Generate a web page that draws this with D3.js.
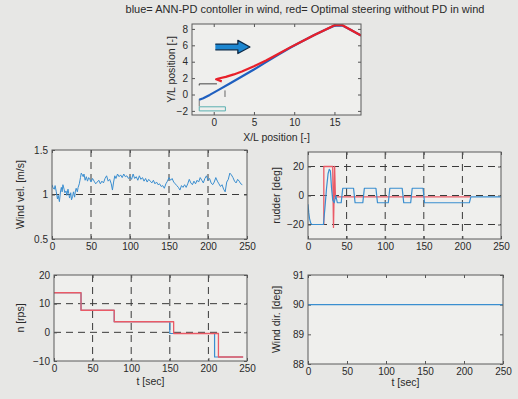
<!DOCTYPE html>
<html><head><meta charset="utf-8">
<script src="https://cdn.jsdelivr.net/npm/d3@7"></script>
<style>
html,body{margin:0;padding:0;background:#e7e7e5;}
svg{display:block;font-family:"Liberation Sans",Arial,sans-serif;}
</style></head><body>
<svg id="c" width="518" height="399"></svg>
<script>
// ---------- DATA ----------
const titleText = "blue= ANN-PD contoller in wind, red= Optimal steering without PD in wind";
// trajectory (X/L, Y/L)
const trajBlue = [[-1.8,-0.65],[-1.3,-0.45],[-0.5,-0.05],[0.5,0.5],[2,1.35],[3.5,2.2],[5,3.05],[6.5,3.95],[8,4.85],[9.5,5.7],[11,6.5],[12.5,7.25],[14,7.95],[15,8.4],[16,8.4],[17,7.9],[18.3,7.2]];
const trajRed = [[1.0,1.6],[0.3,1.85],[0.6,1.95],[1.5,2.15],[2.5,2.45],[3.5,2.8],[5,3.45],[6.5,4.15],[8,4.95],[9.5,5.75],[11,6.5],[12.5,7.25],[14,7.95],[15,8.45],[16,8.45],[17,7.9],[18.3,7.2]];
const markBlack = [[-1.8,1.1],[-1.8,1.3],[0.4,1.3]];
const markTick = [[1.4,0.5],[1.4,-0.3]];
const markGrey = [[-1.8,-0.55],[-1.8,-1.45]];
const markCyan = [[-1.8,-1.5],[1.45,-1.5],[1.45,-2.0],[-1.8,-2.0],[-1.8,-1.5]];
const arrowShape = [[0.2,5.45],[3.0,5.45],[3.0,5.0],[4.5,5.8],[3.0,6.6],[3.0,6.15],[0.2,6.15]];
const trajXTicks = [0,5,10,15];
const trajYTicks = [-2,0,2,4,6,8];

// wind velocity (t, m/s)
const windVel = [[0,1.11],[1.5,1.07],[3,1.06],[4,1.1],[5.5,1.03],[7,0.95],[8,0.99],[9.5,0.92],[11,1.04],[12,1.08],[13,1.03],[14,1.11],[15.5,1.06],[16.5,1.02],[18,1.04],[19,0.99],[20.5,1.06],[21.5,1.01],[22.5,0.96],[24,1.02],[25,0.94],[26.5,0.98],[27.5,1.03],[29,0.97],[30,1.04],[31,1.07],[32.5,1.03],[33.5,1.08],[35,1.12],[36.5,1.19],[37.5,1.24],[39,1.22],[40,1.2],[41,1.23],[42.5,1.16],[44,1.2],[45.5,1.15],[47,1.19],[48.5,1.17],[50,1.14],[52,1.18],[54,1.15],[56,1.12],[58,1.14],[60,1.16],[62,1.12],[64,1.15],[66,1.13],[68,1.18],[70,1.21],[72,1.15],[74,1.17],[76,1.12],[77.5,1.05],[79,1.14],[80.5,1.21],[82,1.18],[84,1.23],[86,1.2],[88,1.22],[90,1.19],[92,1.23],[94,1.2],[96,1.21],[98,1.18],[100,1.2],[102,1.17],[104,1.23],[106,1.18],[108,1.2],[110,1.16],[112,1.21],[114,1.17],[116,1.19],[118,1.15],[120,1.18],[122,1.14],[124,1.17],[126,1.15],[128,1.13],[130,1.16],[132,1.12],[134,1.14],[136,1.11],[138,1.12],[140,1.09],[142,1.1],[144,1.07],[146,1.12],[148,1.15],[150,1.19],[152,1.16],[154,1.18],[156,1.14],[158,1.12],[160,1.1],[162,1.08],[164,1.05],[166,1.1],[168,1.08],[170,1.11],[172,1.08],[174,1.12],[176,1.17],[178,1.13],[180,1.11],[182,1.15],[184,1.12],[186,1.16],[188,1.14],[190,1.19],[192,1.16],[194,1.13],[196,1.18],[198,1.21],[200,1.16],[202,1.18],[204,1.13],[206,1.11],[208,1.14],[210,1.19],[212,1.15],[214,1.12],[216,1.09],[218,1.11],[220,1.06],[222,1.03],[224,1.14],[226,1.17],[228,1.24],[230,1.22],[232,1.19],[234,1.15],[236,1.13],[238,1.17],[240,1.15],[242,1.12],[244,1.11]];
const windVelYTicks = [0.5,1,1.5];

// rudder (t, deg)
const rudderBlue = [[0,-6],[1,-12],[2,-16],[3.5,-19],[5,-20],[20,-20],[22,-8],[24,5],[26,15],[27.5,18],[29,17],[30.5,5],[32,-3],[34,-5],[36,0],[38,-5],[43,-5],[45,5],[59,5],[61,-5],[71,-5],[73,5],[88,5],[90,-5],[104,-5],[106,5],[122,5],[124,-5],[133,-5],[135,5],[149,5],[151,-5],[209,-5],[211,-1],[250,-1]];
const rudderRed = [[20.5,-20],[20.5,20],[32,20],[33,-22],[34.5,20],[35.5,-1],[211,-1]];
const rudderYTicks = [-20,0,20];

// propeller speed n (t, rps)
const nBlue = [[0,13.8],[35,13.8],[35,7.7],[78,7.7],[78,3.7],[150,3.7],[150,-0.4],[208,-0.4],[208,-8.6],[245,-8.6]];
const nRed = [[0,13.8],[35,13.8],[35,7.7],[78,7.7],[78,3.7],[155,3.7],[155,-0.4],[213,-0.4],[213,-8.6],[245,-8.6]];
const nYTicks = [-10,0,10,20];

// wind direction (t, deg)
const windDir = [[0,90],[250,90]];
const windDirYTicks = [88,89,90,91];

const tTicks = [0,50,100,150,200,250];
const tGrid = [50,100,150,200];

// ---------- DRAW ----------
const svg = d3.select("#c");
const BLUE = "#3a8ed0", RED = "#ea5a66";

function panel(o){
  const g = svg.append("g");
  const x = d3.scaleLinear().domain(o.xd).range([o.x0,o.x1]);
  const y = d3.scaleLinear().domain(o.yd).range([o.y1,o.y0]);
  g.append("rect").attr("x",o.x0).attr("y",o.y0).attr("width",o.x1-o.x0).attr("height",o.y1-o.y0)
    .attr("fill","#efefed");
  (o.xgrid||[]).forEach(v=>g.append("line").attr("x1",x(v)).attr("x2",x(v)).attr("y1",o.y0).attr("y2",o.y1)
      .attr("stroke","#3a3a3a").attr("stroke-dasharray","7,5").attr("stroke-width",1));
  (o.ygrid||[]).forEach(v=>g.append("line").attr("y1",y(v)).attr("y2",y(v)).attr("x1",o.x0).attr("x2",o.x1)
      .attr("stroke","#3a3a3a").attr("stroke-dasharray","7,5").attr("stroke-width",1));
  const style = s=>s.call(a=>a.select(".domain").remove())
      .call(a=>a.selectAll("line").attr("stroke","#555"))
      .call(a=>a.selectAll("text").attr("fill","#2a2a2a").style("font-size","10px").style("font-family","Liberation Sans, Arial, sans-serif"));
  g.append("g").attr("transform",`translate(0,${o.y1})`)
    .call(d3.axisBottom(x).tickValues(o.xt).tickFormat(d3.format("")).tickSize(-3).tickPadding(4)).call(style);
  g.append("g").attr("transform",`translate(0,${o.y0})`)
    .call(d3.axisTop(x).tickValues(o.xt).tickFormat("").tickSize(-3)).call(style);
  g.append("g").attr("transform",`translate(${o.x0},0)`)
    .call(d3.axisLeft(y).tickValues(o.yt).tickFormat(d3.format("")).tickSize(-3).tickPadding(4)).call(style);
  g.append("g").attr("transform",`translate(${o.x1},0)`)
    .call(d3.axisRight(y).tickValues(o.yt).tickFormat("").tickSize(-3)).call(style);
  const clipId = "clip"+o.id;
  svg.append("clipPath").attr("id",clipId).append("rect").attr("x",o.x0).attr("y",o.y0).attr("width",o.x1-o.x0).attr("height",o.y1-o.y0);
  const lines = g.append("g").attr("clip-path",`url(#${clipId})`);
  const line = d3.line().x(d=>x(d[0])).y(d=>y(d[1]));
  (o.series||[]).forEach(s=>{
    lines.append("path").attr("d",line(s.data)).attr("fill",s.fill||"none").attr("stroke",s.color)
      .attr("stroke-width",s.w||1).attr("stroke-linejoin","round");
  });
  g.append("rect").attr("x",o.x0).attr("y",o.y0).attr("width",o.x1-o.x0).attr("height",o.y1-o.y0)
    .attr("fill","none").attr("stroke","#5a5a5a").attr("stroke-width",1);
  if(o.ylabel){
    g.append("text").attr("transform",`translate(${o.ylx},${(o.y0+o.y1)/2}) rotate(-90)`)
      .attr("text-anchor","middle").attr("fill","#2a2a2a").style("font-size","10.5px").text(o.ylabel);
  }
  if(o.xlabel){
    g.append("text").attr("x",(o.x0+o.x1)/2).attr("y",o.xly).attr("text-anchor","middle")
      .attr("fill","#2a2a2a").style("font-size","10.5px").text(o.xlabel);
  }
  return {x,y,g};
}

svg.append("text").attr("x",305).attr("y",13).attr("text-anchor","middle").attr("fill","#2a2a2a")
  .style("font-size","11px").text(titleText);

panel({id:"a",x0:192,x1:361,y0:24,y1:115,xd:[-2.7,18.3],yd:[-2.5,8.6],xt:trajXTicks,yt:trajYTicks,
  ylabel:"Y/L position [-]",ylx:175,xlabel:"X/L position [-]",xly:141,
  series:[
    {data:markBlack,color:"#444",w:1},
    {data:markTick,color:"#666",w:1},
    {data:markGrey,color:"#777",w:1},
    {data:markCyan,color:"#5ab0b0",w:1},
    {data:trajBlue,color:"#1f5fbf",w:2.2},
    {data:trajRed,color:"#e8202a",w:2.2},
    {data:arrowShape,color:"#0d2a48",w:1.3,fill:"#1c86d0"}
  ]});

panel({id:"b",x0:52,x1:247,y0:150,y1:239,xd:[0,250],yd:[0.5,1.5],xt:tTicks,yt:windVelYTicks,
  xgrid:tGrid,ygrid:[1],ylabel:"Wind vel. [m/s]",ylx:24,
  series:[{data:windVel,color:BLUE,w:1}]});

panel({id:"c",x0:308,x1:501,y0:152,y1:239,xd:[0,250],yd:[-30,30],xt:tTicks,yt:rudderYTicks,
  xgrid:tGrid,ygrid:[-20,0,20],ylabel:"rudder [deg]",ylx:280,
  series:[{data:rudderRed,color:RED,w:1.3},{data:rudderBlue,color:BLUE,w:1.2}]});

panel({id:"d",x0:54,x1:247,y0:275,y1:361,xd:[0,250],yd:[-10,20],xt:tTicks,yt:nYTicks,
  xgrid:tGrid,ygrid:[0,10],ylabel:"n [rps]",ylx:24,xlabel:"t [sec]",xly:385,
  series:[{data:nBlue,color:BLUE,w:1.2},{data:nRed,color:RED,w:1.3}]});

panel({id:"e",x0:308,x1:503,y0:275,y1:364,xd:[0,250],yd:[88,91],xt:tTicks,yt:windDirYTicks,
  ylabel:"Wind dir. [deg]",ylx:280,xlabel:"t [sec]",xly:386,
  series:[{data:windDir,color:BLUE,w:1.2}]});
</script>
</body></html>
